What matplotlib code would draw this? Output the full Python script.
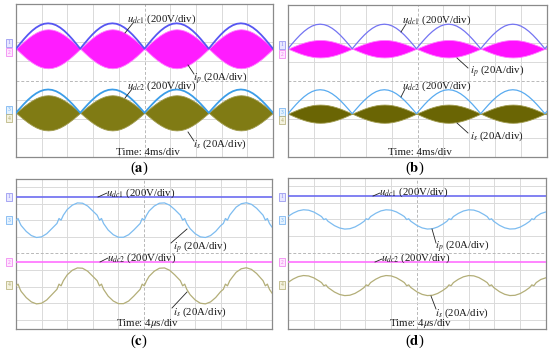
import matplotlib.pyplot as plt
import numpy as np
from matplotlib.lines import Line2D

plt.rcParams['font.family'] = ['Liberation Serif', 'DejaVu Serif']
plt.rcParams['mathtext.fontset'] = 'stix'

# shape of one rectified half-cycle (fraction of half-cycle, relative height)
arch_pos = [0, 0.0625, 0.125, 0.1875, 0.25, 0.3125, 0.375, 0.4375, 0.5,
            0.5625, 0.625, 0.6875, 0.75, 0.8125, 0.875, 0.9375, 1.0]
arch_val = [0, 0.195, 0.383, 0.556, 0.707, 0.831, 0.924, 0.981, 1.0,
            0.981, 0.924, 0.831, 0.707, 0.556, 0.383, 0.195, 0]

# panels (a), (b): values in divisions
half_cycle = [2.5, 2.48]
udc1_base = [1.66, 1.70]
udc1_height = [1.33, 1.29]
ip_amp = [1.02, 0.46]
udc2_base = [-1.69, -1.72]
udc2_height = [1.22, 1.26]
is_amp = [0.92, 0.48]

# panels (c), (d): dc levels and current ground levels (divisions)
udc1_level = [3.4, 3.4]
udc2_level = [-0.52, -0.56]
ip_base = [2.0, 2.0]
is_base = [-1.96, -1.96]

# current waveform in (c), relative to its ground level
cur_c_t = [0.0, 0.08, 0.16, 0.2, 0.4, 0.6, 0.8, 1.0, 1.2, 1.4, 1.6, 1.68, 1.76, 1.85,
           2.0, 2.2, 2.4, 2.6, 2.8, 3.0, 3.17, 3.26, 3.34, 3.42, 3.6, 3.8, 4.0, 4.2,
           4.4, 4.6, 4.85, 4.93, 5.01, 5.1, 5.2, 5.4, 5.6, 5.8, 6.0, 6.2, 6.42, 6.51,
           6.59, 6.67, 6.8, 7.0, 7.2, 7.4, 7.6, 7.8, 8.0, 8.1, 8.18, 8.26, 8.35, 8.45,
           8.6, 8.8, 9.0, 9.2, 9.4, 9.65, 9.74, 9.82, 9.9, 10.0]
cur_c_v = [0.0, 0.1, -0.2, -0.32, -0.68, -0.93, -1.045, -1.006, -0.818, -0.51, -0.2, 0.1,
           0.0, 0.3, 0.638, 0.905, 1.039, 1.02, 0.849, 0.553, 0.3, 0.0, 0.1, -0.2,
           -0.596, -0.878, -1.03, -1.03, -0.879, -0.596, -0.2, 0.1, 0.0, 0.3, 0.553,
           0.849, 1.02, 1.039, 0.905, 0.638, 0.3, 0.0, 0.1, -0.2, -0.51, -0.818, -1.006,
           -1.045, -0.93, -0.677, -0.324, -0.2, 0.1, 0.0, 0.3, 0.5, 0.786, 0.99, 1.049,
           0.952, 0.715, 0.3, 0.0, 0.1, -0.2, -0.42]

# current waveform in (d), relative to its ground level
cur_d_t = [0.0, 0.2, 0.4, 0.6, 0.8, 1.0, 1.2, 1.3, 1.39, 1.47, 1.55, 1.8, 2.0, 2.2, 2.4,
           2.6, 2.8, 2.95, 3.03, 3.11, 3.2, 3.4, 3.6, 3.8, 4.0, 4.2, 4.4, 4.51, 4.6,
           4.68, 4.76, 5.0, 5.2, 5.4, 5.6, 5.8, 6.0, 6.16, 6.24, 6.32, 6.41, 6.6, 6.8,
           7.0, 7.2, 7.4, 7.6, 7.72, 7.81, 7.89, 7.97, 8.2, 8.4, 8.6, 8.8, 9.0, 9.2,
           9.37, 9.45, 9.53, 9.62, 9.8, 10.0]
cur_d_v = [0.18, 0.376, 0.516, 0.578, 0.553, 0.444, 0.268, 0.17, -0.01, 0.04, -0.11,
           -0.371, -0.513, -0.578, -0.555, -0.448, -0.273, -0.11, 0.04, -0.01, 0.17,
           0.367, 0.511, 0.577, 0.556, 0.451, 0.278, 0.17, -0.01, 0.04, -0.11, -0.363,
           -0.508, -0.576, -0.557, -0.454, -0.282, -0.11, 0.04, -0.01, 0.17, 0.359,
           0.505, 0.576, 0.559, 0.458, 0.287, 0.17, -0.01, 0.04, -0.11, -0.355, -0.503,
           -0.575, -0.56, -0.46, -0.291, -0.11, 0.04, -0.01, 0.17, 0.351, 0.45]

W, H = 550, 353
fig = plt.figure(figsize=(5.5, 3.53), dpi=100)
FS = 7.8


def fx(x):
    return x / W


def fy(y):
    return 1 - y / H


def scope(box, ylim):
    x0, y0, x1, y1 = box
    ax = fig.add_axes([fx(x0), fy(y1), fx(x1 - x0), (y1 - y0) / H])
    ax.set_xlim(0, 10)
    ax.set_ylim(*ylim)
    for gx in range(1, 10):
        ax.axvline(gx, color='#b8b8b8' if gx == 5 else '#dadada', lw=0.7,
                   ls=(0, (3, 2)) if gx == 5 else '-', zorder=0)
    for gy in range(-4, 5):
        if ylim[0] < gy < ylim[1]:
            ax.axhline(gy, color='#b8b8b8' if gy == 0 else '#dadada', lw=0.7,
                       ls=(0, (3, 2)) if gy == 0 else '-', zorder=0)
    ax.set_xticks([])
    ax.set_yticks([])
    for s in ax.spines.values():
        s.set_color('#8a8a8a')
        s.set_linewidth(0.9)
    return ax


def label(x, y, txt, leader=None):
    fig.text(fx(x), fy(y), txt, fontsize=FS, ha='left', va='center', color='#1a1a1a')
    if leader:
        fig.add_artist(Line2D([fx(leader[0]), fx(leader[2])], [fy(leader[1]), fy(leader[3])],
                              transform=fig.transFigure, color='#222222', lw=0.6))


def marker(x, y, txt, ec, fc):
    fig.text(fx(x), fy(y), txt, fontsize=4, color=ec, ha='center', va='center',
             bbox=dict(boxstyle='square,pad=0.3', fc=fc, ec=ec, lw=0.5))


def arches(hc):
    n = int(np.ceil(10 / hc))
    xs = np.concatenate([k * hc + hc * np.array(arch_pos) for k in range(n)])
    ys = np.tile(arch_val, n)
    return xs, ys


# ---- (a) and (b)
boxes_top = [(16, 4, 273, 157), (288, 5, 547, 157)]
ucol1 = ['#5656f2', '#7474f2']
ucol2 = ['#3b9de8', '#59abf0']
pfill = ['#ff1cff', '#ff10ff']
sfill = ['#807b14', '#6a6504']
ulw = [1.3, 0.9]
for i in range(2):
    ax = scope(boxes_top[i], (-4, 4))
    xs, ys = arches(half_cycle[i])
    ax.fill_between(xs, udc1_base[i] - ip_amp[i] * ys, udc1_base[i] + ip_amp[i] * ys,
                    color=pfill[i], lw=0.6, edgecolor='#ff80ff', zorder=2)
    ax.plot(xs, udc1_base[i] + udc1_height[i] * ys, color=ucol1[i], lw=ulw[i], zorder=3)
    ax.fill_between(xs, udc2_base[i] - is_amp[i] * ys, udc2_base[i] + is_amp[i] * ys,
                    color=sfill[i], lw=0.6, edgecolor='#a19c50', zorder=2)
    ax.plot(xs, udc2_base[i] + udc2_height[i] * ys, color=ucol2[i], lw=ulw[i], zorder=3)

# ---- (c) and (d)
boxes_bot = [(16, 179, 272, 329), (288, 178, 546, 329)]
cur_t = [cur_c_t, cur_d_t]
cur_v = [cur_c_v, cur_d_v]
for i in range(2):
    ax = scope(boxes_bot[i], (-4.56, 4.48))
    ax.plot([0, 10], [udc1_level[i], udc1_level[i]], color='#6c6cf0', lw=1.2, zorder=3)
    ax.plot([0, 10], [udc2_level[i], udc2_level[i]], color='#ff70ff', lw=1.2, zorder=3)
    ax.plot(cur_t[i], ip_base[i] + np.array(cur_v[i]), color='#7dbcf0', lw=0.9, zorder=3)
    ax.plot(cur_t[i], is_base[i] + np.array(cur_v[i]) * 1.04, color='#b3ae78', lw=0.9,
            zorder=3)

# ---- annotations (a)
label(127, 19, r'$u_{dc1}$ (200V/div)', (133, 23, 125, 33))
label(193, 78, r'$i_p$ (20A/div)', (188, 65, 194, 74))
label(127, 86, r'$u_{dc2}$ (200V/div)', (132, 89, 125, 98))
label(193, 144, r'$i_s$ (20A/div)', (188, 132, 194, 141))
# (b)
label(402, 20, r'$u_{dc1}$ (200V/div)', (406, 24, 401, 32))
label(470, 71, r'$i_p$ (20A/div)', (457, 58, 468, 68))
label(402, 86, r'$u_{dc2}$ (200V/div)', (405, 89, 401, 97))
label(470, 136, r'$i_s$ (20A/div)', (457, 123, 468, 133))
# (c)
label(106, 193, r'$u_{dc1}$ (200V/div)', (98, 197, 107, 193))
label(173, 247, r'$i_p$ (20A/div)', (187, 229, 171, 243))
label(107, 258, r'$u_{dc2}$ (200V/div)', (100, 262, 108, 258))
label(173, 312, r'$i_s$ (20A/div)', (187, 292, 172, 308))
# (d)
label(379, 192, r'$u_{dc1}$ (200V/div)', (373, 196, 380, 193))
label(435, 246, r'$i_p$ (20A/div)', (432, 229, 436, 243))
label(381, 258, r'$u_{dc2}$ (200V/div)', (375, 262, 382, 259))
label(435, 313, r'$i_s$ (20A/div)', (431, 296, 436, 309))

for x, y, t in [(148, 152, 'Time: 4ms/div'), (420, 152, 'Time: 4ms/div'),
                (147, 323, r'Time: 4$\mu$s/div'), (420, 323, r'Time: 4$\mu$s/div')]:
    fig.text(fx(x), fy(y), t, fontsize=FS, ha='center', va='center', color='#1a1a1a')

for x, y, t in [(139, 168, 'a'), (415, 168, 'b'), (139, 341, 'c'), (415, 341, 'd')]:
    fig.text(fx(x), fy(y), '(' + r'$\mathbf{' + t + '}$' + ')', fontsize=10.5,
             ha='center', va='center')

# channel ground markers
for xm in [9, 282]:
    yo = 0 if xm == 9 else 2
    marker(xm, 43 + yo, '1', '#8888ee', '#e8e8ff')
    marker(xm, 52 + yo, '2', '#ee77ee', '#ffe6ff')
    marker(xm, 110 + yo, '3', '#66aaee', '#e4f2ff')
    marker(xm, 118 + yo, '4', '#b0ab70', '#f4f2e0')
for xm in [9, 282]:
    marker(xm, 197, '1', '#8888ee', '#e8e8ff')
    marker(xm, 220, '3', '#66aaee', '#e4f2ff')
    marker(xm, 262, '2', '#ee77ee', '#ffe6ff')
    marker(xm, 285, '4', '#b0ab70', '#f4f2e0')

plt.savefig('out.png', dpi=100)
